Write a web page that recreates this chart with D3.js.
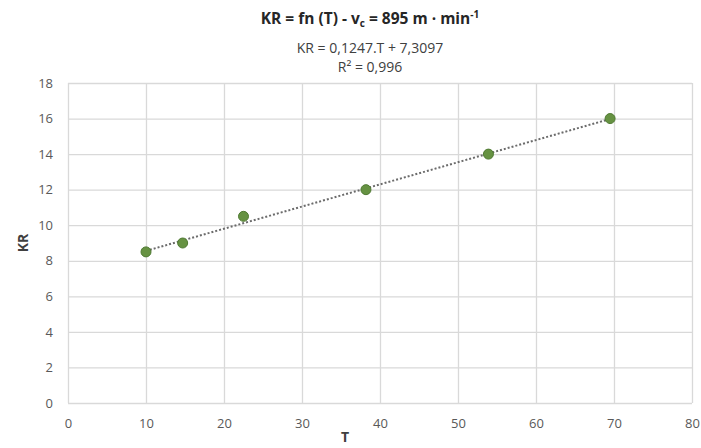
<!DOCTYPE html>
<html>
<head>
<meta charset="utf-8">
<script src="https://cdn.jsdelivr.net/npm/d3@7"></script>
<style>
  body { margin: 0; background: #fff; }
  text { font-family: "Open Sans", "Liberation Sans", sans-serif; }
</style>
</head>
<body>
<div id="chart"></div>
<script>
// data
const tValues = [10, 14.7, 22.5, 38.2, 53.9, 69.5]
const krValues = [8.5, 9, 10.5, 12, 14, 16]
const xTicks = [0, 10, 20, 30, 40, 50, 60, 70, 80]
const yTicks = [0, 2, 4, 6, 8, 10, 12, 14, 16, 18]
const slope = 0.1247
const intercept = 7.3097

const width = 701,
      height = 448,
      marginTop = 83, // top margin, in pixels
      marginRight = 9,
      marginBottom = 45,
      marginLeft = 68

const xScale = d3.scaleLinear([0, 80], [marginLeft, width - marginRight])
const yScale = d3.scaleLinear([0, 18], [height - marginBottom, marginTop])

const svg = d3.select("#chart").append("svg")
      .attr("width", width)
      .attr("height", height)
      .attr("viewBox", [0, 0, width, height])

// grid x
svg.append("g")
      .attr("transform", `translate(0,${height - marginBottom})`)
      .call(d3.axisBottom(xScale).tickValues(xTicks).tickSize(0).tickPadding(16))
      .call(g => g.select(".domain").remove())
      .call(g => g.selectAll(".tick line").clone()
            .attr("y2", marginTop + marginBottom - height)
            .attr("stroke", "#d9d9d9")
            .attr("stroke-width", 1.3))
      .call(g => g.selectAll(".tick text")
            .attr("font-size", 13)
            .attr("fill", "#595959"))

// grid y
svg.append("g")
      .attr("transform", `translate(${marginLeft},0)`)
      .call(d3.axisLeft(yScale).tickValues(yTicks).tickSize(0).tickPadding(15))
      .call(g => g.select(".domain").remove())
      .call(g => g.selectAll(".tick line").clone()
            .attr("x2", width - marginLeft - marginRight)
            .attr("stroke", "#d9d9d9")
            .attr("stroke-width", 1.3))
      .call(g => g.selectAll(".tick text")
            .attr("font-size", 13)
            .attr("fill", "#595959"))

// trendline
const tExtent = d3.extent(tValues)
svg.append("line")
      .attr("x1", xScale(tExtent[0]))
      .attr("y1", yScale(slope * tExtent[0] + intercept))
      .attr("x2", xScale(tExtent[1]))
      .attr("y2", yScale(slope * tExtent[1] + intercept))
      .attr("stroke", "#6b6b6b")
      .attr("stroke-width", 2)
      .attr("stroke-dasharray", "2,2")

// points
svg.append("g")
      .selectAll("circle")
      .data(d3.range(tValues.length))
      .join("circle")
      .attr("cx", i => xScale(tValues[i]))
      .attr("cy", i => yScale(krValues[i]))
      .attr("r", 5)
      .attr("fill", "#669242")
      .attr("stroke", "#4f7a32")
      .attr("stroke-width", 1)

// titles
const cx = 370
const title = svg.append("text")
      .attr("x", cx)
      .attr("y", 24)
      .attr("text-anchor", "middle")
      .attr("font-size", 15.5)
      .attr("font-weight", "bold")
      .attr("fill", "#262626")
title.append("tspan").text("KR = fn (T) - v")
title.append("tspan").attr("font-size", 10).attr("dy", 3).text("c")
title.append("tspan").attr("dy", -3).text(" = 895 m · min")
title.append("tspan").attr("font-size", 10).attr("dy", -6).text("-1")

svg.append("text")
      .attr("x", cx)
      .attr("y", 53)
      .attr("text-anchor", "middle")
      .attr("font-size", 14)
      .attr("fill", "#404040")
      .text("KR = 0,1247.T + 7,3097")

svg.append("text")
      .attr("x", cx)
      .attr("y", 72)
      .attr("text-anchor", "middle")
      .attr("font-size", 14)
      .attr("fill", "#404040")
      .text("R² = 0,996")

// axis labels
svg.append("text")
      .attr("transform", `translate(28,${yScale(9)}) rotate(-90)`)
      .attr("text-anchor", "middle")
      .attr("font-size", 14)
      .attr("font-weight", "bold")
      .attr("fill", "#404040")
      .text("KR")

svg.append("text")
      .attr("x", 345)
      .attr("y", 442)
      .attr("text-anchor", "middle")
      .attr("font-size", 14)
      .attr("font-weight", "bold")
      .attr("fill", "#404040")
      .text("T")
</script>
</body>
</html>
